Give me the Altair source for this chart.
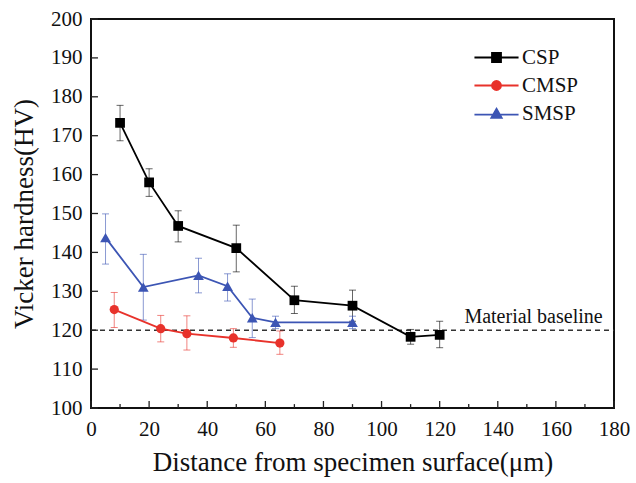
import altair as alt
import pandas as pd

# ---- data ----
series = ["CSP", "CMSP", "SMSP"]
colors = ["#000000", "#e8322b", "#3c55b4"]

csp_x = [10, 20, 30, 50, 70, 90, 110, 120]
csp_y = [173.3, 158.0, 146.8, 141.1, 127.7, 126.3, 118.3, 118.8]
csp_hi = [177.8, 161.5, 150.7, 147.0, 131.3, 130.3, 120.2, 122.3]
csp_lo = [168.7, 154.4, 142.7, 135.0, 124.3, 122.3, 116.4, 115.5]

cmsp_x = [8, 24, 33, 49, 65]
cmsp_y = [125.3, 120.4, 119.1, 118.0, 116.7]
cmsp_hi = [129.7, 123.8, 123.7, 120.4, 119.8]
cmsp_lo = [120.7, 117.0, 114.9, 115.6, 113.8]

smsp_x = [5, 18, 37, 47, 55.5, 63.5, 90]
smsp_y = [143.8, 131.1, 134.1, 131.3, 123.2, 122.0, 122.0]
smsp_hi = [149.9, 139.5, 138.5, 134.5, 128.0, 123.6, 123.6]
smsp_lo = [137.0, 122.6, 129.6, 127.5, 118.1, 120.4, 120.4]

baseline_value = 120
baseline_label = "Material baseline"

x_ticks_major = list(range(0, 181, 20))
x_ticks_minor = list(range(10, 180, 20))
y_ticks = list(range(100, 201, 10))

rows = []
for name, xs, ys, lo, hi in [
    ("CSP", csp_x, csp_y, csp_lo, csp_hi),
    ("CMSP", cmsp_x, cmsp_y, cmsp_lo, cmsp_hi),
    ("SMSP", smsp_x, smsp_y, smsp_lo, smsp_hi),
]:
    for a, b, c, d in zip(xs, ys, lo, hi):
        rows.append({"series": name, "x": a, "y": b, "lo": c, "hi": d})
df = pd.DataFrame(rows)

FONT = "Liberation Serif"
XT = "Distance from specimen surface(μm)"
YT = "Vicker hardness(HV)"

xscale = alt.Scale(domain=[0, 180], nice=False, zero=False)
yscale = alt.Scale(domain=[100, 200], nice=False, zero=False)
xaxis = alt.Axis(values=x_ticks_major, title=XT)
yaxis = alt.Axis(values=y_ticks, title=YT)


def X(field):
    return alt.X(field, scale=xscale, axis=xaxis, title=XT)


def Y(field):
    return alt.Y(field, scale=yscale, axis=yaxis, title=YT)


# colour scale for the marks (domain order reversed so its disabled legend
# does not swallow the custom legend below)
color = alt.Color("series:N", scale=alt.Scale(domain=series[::-1], range=colors[::-1]), legend=None)
base = alt.Chart(df)

# baseline
baseline = alt.Chart(pd.DataFrame({"v": [baseline_value]})).mark_rule(
    strokeDash=[5, 4], strokeWidth=1.4, color="#333333"
).encode(y=Y("v:Q"), x=alt.X(datum=0, scale=xscale, axis=xaxis, title=XT),
         x2=alt.datum(180))

label = alt.Chart(pd.DataFrame({"t": [baseline_label]})).mark_text(
    font=FONT, fontSize=20, align="center", baseline="alphabetic", color="#111111"
).encode(text="t:N", x=alt.X(datum=152.3, scale=xscale, axis=xaxis, title=XT),
         y=alt.Y(datum=121.9, scale=yscale, axis=yaxis, title=YT))

err = base.mark_rule(strokeWidth=1, opacity=0.6).encode(x=X("x:Q"), y=Y("lo:Q"), y2="hi:Q", color=color)
cap_hi = base.mark_tick(orient="horizontal", size=7, thickness=1, opacity=0.6).encode(
    x=X("x:Q"), y=Y("hi:Q"), color=color)
cap_lo = base.mark_tick(orient="horizontal", size=7, thickness=1, opacity=0.6).encode(
    x=X("x:Q"), y=Y("lo:Q"), color=color)

lines = base.mark_line(strokeWidth=1.8).encode(x=X("x:Q"), y=Y("y:Q"), color=color)

pts = []
for s, shp, sz in [("CSP", "square", 95), ("CMSP", "circle", 85), ("SMSP", "triangle-up", 115)]:
    pts.append(
        base.transform_filter(alt.datum.series == s)
        .mark_point(shape=shp, filled=True, size=sz, opacity=1)
        .encode(x=X("x:Q"), y=Y("y:Q"), color=color)
    )

# legend carrier (no rows drawn; legend symbols = line + marker)
paths = [
    "M-4.9,0H4.9M-1,-1H1V1H-1Z",
    "M-4.9,0H4.9M1,0A1,1,0,1,1,-1,0A1,1,0,1,1,1,0Z",
    "M-4.9,0.25H4.9M0,-1.05L1.15,0.95H-1.15Z",
]
leg_scale = alt.Scale(domain=series, range=colors)
LEG = alt.Legend(title=None, orient="none", legendX=395, legendY=28)
legend_layer = base.transform_filter("false").mark_point(filled=True, size=81, strokeWidth=1.8).encode(
    x=X("x:Q"), y=Y("y:Q"),
    fill=alt.Fill("series:N", scale=leg_scale, legend=LEG),
    stroke=alt.Stroke("series:N", scale=leg_scale, legend=LEG),
    shape=alt.Shape("series:N", scale=alt.Scale(domain=series, range=paths), legend=LEG),
)

# inward ticks
xmaj = alt.Chart(pd.DataFrame({"t": x_ticks_major})).mark_rule(strokeWidth=1.3, color="#222222").encode(
    x=X("t:Q"), y=alt.Y(datum=100, scale=yscale, axis=yaxis, title=YT), y2=alt.datum(101.8))
xmin = alt.Chart(pd.DataFrame({"t": x_ticks_minor})).mark_rule(strokeWidth=1.3, color="#222222").encode(
    x=X("t:Q"), y=alt.Y(datum=100, scale=yscale, axis=yaxis, title=YT), y2=alt.datum(101.0))
ymaj = alt.Chart(pd.DataFrame({"t": y_ticks})).mark_rule(strokeWidth=1.3, color="#222222").encode(
    y=Y("t:Q"), x=alt.X(datum=0, scale=xscale, axis=xaxis, title=XT), x2=alt.datum(2.4))

chart = alt.layer(
    baseline, err, cap_hi, cap_lo, lines, *pts, label, xmaj, xmin, ymaj, legend_layer
).properties(
    width=523, height=389,
    background="white",
    autosize=alt.AutoSizeParams(type="none"),
    padding={"left": 91, "top": 19, "right": 22, "bottom": 75},
).configure_view(
    stroke="#111111", strokeWidth=2
).configure_axis(
    grid=False, ticks=False, tickSize=0, domain=False, labelFlush=False,
    labelFont=FONT, labelFontSize=21, labelColor="#111111",
    titleFont=FONT, titleFontSize=27, titleFontWeight="normal", titleColor="#111111",
).configure_axisX(
    labelPadding=10, titlePadding=10,
).configure_axisY(
    labelPadding=9, titlePadding=12,
).configure_legend(
    labelFont=FONT, labelFontSize=21, labelColor="#111111",
    symbolSize=81, labelOffset=15, rowPadding=6, padding=0, symbolStrokeWidth=1.8,
    symbolOpacity=1,
)

chart.save("out.html", embed_options={"renderer": "svg", "actions": False})
